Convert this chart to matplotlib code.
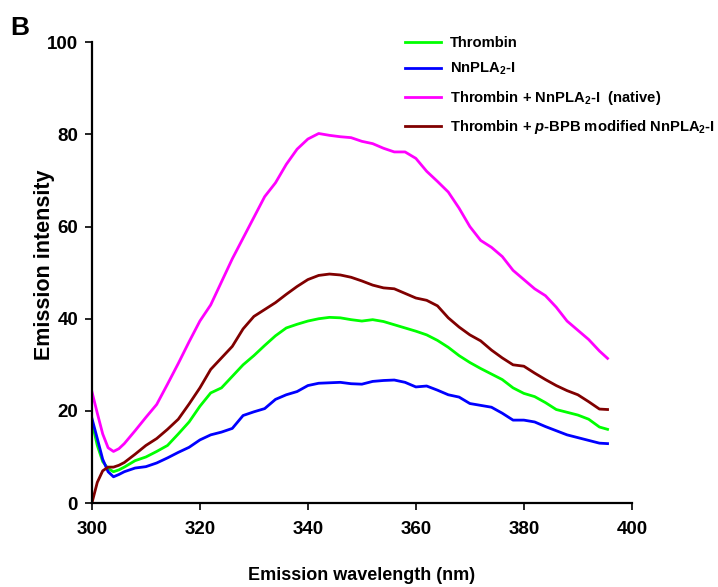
import matplotlib
matplotlib.use("Agg")
import matplotlib.pyplot as plt

plt.rcParams['font.family'] = ['Liberation Sans', 'DejaVu Sans']
plt.rcParams['font.weight'] = 'bold'
plt.rcParams['mathtext.fontset'] = 'custom'
plt.rcParams['mathtext.rm'] = 'Liberation Sans:bold'
plt.rcParams['mathtext.bf'] = 'Liberation Sans:bold'
plt.rcParams['mathtext.it'] = 'Liberation Sans:italic:bold'

# emission wavelength (nm)
wavelength = [300, 301, 302, 303, 304, 305, 306, 308, 310, 312, 314, 316, 318, 320,
              322, 324, 326, 328, 330, 332, 334, 336, 338, 340, 342, 344, 346, 348,
              350, 352, 354, 356, 358, 360, 362, 364, 366, 368, 370, 372, 374, 376,
              378, 380, 382, 384, 386, 388, 390, 392, 394, 395.5]

thrombin = [17.6, 12.5, 9.0, 7.5, 6.8, 7.2, 7.8, 9.2, 10.0, 11.2, 12.5, 15.0, 17.6, 21.0,
            23.9, 25.0, 27.5, 30.0, 32.0, 34.2, 36.3, 38.0, 38.8, 39.5, 40.0, 40.3, 40.2, 39.8,
            39.5, 39.8, 39.4, 38.7, 38.0, 37.3, 36.5, 35.3, 33.8, 32.0, 30.5, 29.2, 28.0, 26.8,
            25.0, 23.8, 23.1, 21.8, 20.3, 19.7, 19.1, 18.2, 16.5, 16.0]

nnpla2 = [18.4, 14.0, 9.5, 6.8, 5.7, 6.2, 6.8, 7.6, 7.9, 8.7, 9.8, 11.0, 12.1, 13.7,
          14.8, 15.4, 16.2, 19.0, 19.8, 20.5, 22.5, 23.5, 24.2, 25.5, 26.0, 26.1, 26.2, 25.9,
          25.8, 26.4, 26.6, 26.7, 26.2, 25.2, 25.4, 24.5, 23.5, 23.0, 21.6, 21.2, 20.8, 19.5,
          18.0, 18.0, 17.6, 16.6, 15.7, 14.8, 14.2, 13.6, 13.0, 12.9]

native = [24.2, 19.5, 15.0, 12.0, 11.2, 11.8, 12.9, 15.7, 18.6, 21.4, 25.8, 30.3, 35.0, 39.5,
          43.0, 48.0, 53.0, 57.5, 62.0, 66.5, 69.5, 73.5, 76.8, 79.0, 80.2, 79.8, 79.5, 79.3,
          78.5, 78.0, 77.0, 76.2, 76.2, 74.8, 72.0, 69.8, 67.5, 64.0, 60.0, 57.0, 55.5, 53.5,
          50.5, 48.5, 46.5, 45.0, 42.5, 39.5, 37.5, 35.5, 33.0, 31.4]

pbpb = [0.0, 4.5, 7.0, 7.8, 7.8, 8.2, 8.8, 10.6, 12.5, 14.0, 16.0, 18.2, 21.5, 25.0,
        29.0, 31.5, 34.0, 37.8, 40.5, 42.0, 43.5, 45.3, 47.0, 48.5, 49.4, 49.7, 49.5, 49.0,
        48.2, 47.3, 46.7, 46.5, 45.5, 44.5, 44.0, 42.8, 40.2, 38.2, 36.5, 35.2, 33.2, 31.5,
        30.0, 29.7, 28.2, 26.8, 25.5, 24.4, 23.5, 22.0, 20.4, 20.3]

fig = plt.figure(figsize=(7.18, 5.87), dpi=100)
ax = fig.add_axes([0.128, 0.143, 0.752, 0.785])

lw = 2.0
ax.plot(wavelength, thrombin, color='#00ff00', lw=lw, label='Thrombin')
ax.plot(wavelength, nnpla2, color='#0000ff', lw=lw, label='NnPLA$_2$-I')
ax.plot(wavelength, native, color='#ff00ff', lw=lw, label='Thrombin + NnPLA$_2$-I  (native)')
ax.plot(wavelength, pbpb, color='#800000', lw=lw,
        label='Thrombin + $\\mathit{p}$-BPB modified NnPLA$_2$-I')

ax.set_xlim(300, 400)
ax.set_ylim(0, 100)
ax.set_xticks(range(300, 401, 20))
ax.set_yticks(range(0, 101, 20))
for s in ['top', 'right']:
    ax.spines[s].set_visible(False)
for s in ['left', 'bottom']:
    ax.spines[s].set_linewidth(1.6)
ax.tick_params(direction='out', length=5, width=1.2, labelsize=13.5)
ax.tick_params(axis='y', pad=5)
ax.tick_params(axis='x', pad=8)

ax.set_xlabel('Emission wavelength (nm)', fontsize=13, fontweight='bold', labelpad=21)
ax.set_ylabel('Emission intensity', fontsize=15.5, fontweight='bold')
ax.yaxis.set_label_coords(-0.069, 0.518)

leg = ax.legend(loc='upper left', bbox_to_anchor=(0.556, 1.043), frameon=False,
                fontsize=10.6, handlelength=2.4, labelspacing=0.77, handletextpad=0.6)

fig.text(0.014, 0.94, 'B', fontsize=19, fontweight='bold')

fig.savefig('out.png', dpi=100)
